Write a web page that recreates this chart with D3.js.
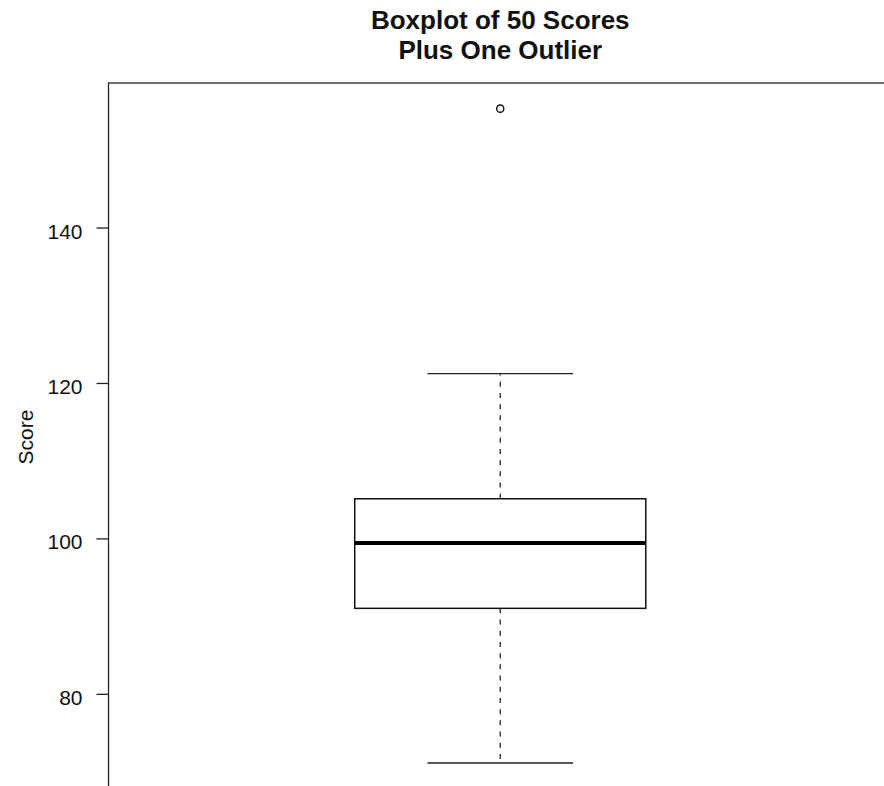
<!DOCTYPE html>
<html lang="en">
<head>
<meta charset="utf-8">
<style>
  body { margin: 0; background: white; }
  svg { display: block; font-family: "Liberation Sans", Arial, sans-serif; }
</style>
</head>
<body>
<script src="https://d3js.org/d3.v7.min.js"></script>
<script>
// five-number summary
var statNames = ["min", "q1", "median", "q3", "max"];
var statValues = [71.1, 91.0, 99.4, 105.1, 121.2];
var outliers = [155.3];
var yTicks = [80, 100, 120, 140];
var groups = ["Scores"];
var titleLines = ["Boxplot of 50 Scores", "Plus One Outlier"];

var W = 884, H = 786;
// plot region (right and bottom edges lie outside the picture)
var plotL = 108.5, plotR = 892, plotT = 83, plotB = 789.4;

var svg = d3.select("body").append("svg")
    .attr("width", W)
    .attr("height", H);

var s = {};
statNames.forEach(function(n, i) { s[n] = statValues[i]; });

var y = d3.scaleLinear()
    .domain([67.7, 158.6])
    .range([plotB, plotT]);

var x = d3.scaleBand()
    .domain(groups)
    .range([plotL, plotR])
    .paddingInner(0)
    .paddingOuter(0.846);

var cx = x(groups[0]) + x.bandwidth() / 2;
var bw = x.bandwidth();

// frame
svg.append("rect")
    .attr("x", plotL).attr("y", plotT)
    .attr("width", plotR - plotL).attr("height", plotB - plotT)
    .attr("fill", "none").attr("stroke", "#222").attr("stroke-width", 1.3);

// y axis
var axis = svg.append("g")
    .attr("transform", "translate(" + plotL + ",0)")
    .call(d3.axisLeft(y).tickValues(yTicks).tickSize(12).tickPadding(14).tickFormat(d3.format("d")));
axis.select(".domain").remove();
axis.selectAll(".tick line").attr("stroke", "#222").attr("stroke-width", 1.3);
axis.selectAll(".tick text")
    .attr("font-size", 21)
    .attr("font-family", "Liberation Sans, Arial, sans-serif")
    .attr("fill", "#111")
    .attr("dy", "0.5em");

// whiskers
var wg = svg.append("g").attr("stroke", "#333").attr("stroke-width", 1.4);
wg.append("line")
    .attr("x1", cx).attr("x2", cx)
    .attr("y1", y(s.q3)).attr("y2", y(s.max))
    .attr("stroke-dasharray", "5,6.2");
wg.append("line")
    .attr("x1", cx).attr("x2", cx)
    .attr("y1", y(s.q1)).attr("y2", y(s.min))
    .attr("stroke-dasharray", "5,6.2");
[s.min, s.max].forEach(function(v) {
  wg.append("line")
    .attr("x1", cx - bw / 4).attr("x2", cx + bw / 4)
    .attr("y1", y(v)).attr("y2", y(v))
    .attr("stroke", "#222");
});

// box
svg.append("rect")
    .attr("x", x(groups[0])).attr("y", y(s.q3))
    .attr("width", bw).attr("height", y(s.q1) - y(s.q3))
    .attr("fill", "white").attr("stroke", "#111").attr("stroke-width", 1.5);

// median
svg.append("line")
    .attr("x1", x(groups[0])).attr("x2", x(groups[0]) + bw)
    .attr("y1", y(s.median)).attr("y2", y(s.median))
    .attr("stroke", "black").attr("stroke-width", 4);

// outliers
svg.selectAll("circle.out")
    .data(outliers)
    .enter().append("circle")
    .attr("class", "out")
    .attr("cx", cx).attr("cy", function(d) { return y(d); })
    .attr("r", 3.6)
    .attr("fill", "none").attr("stroke", "#111").attr("stroke-width", 1.4);

// title
svg.append("g").selectAll("text")
    .data(titleLines)
    .enter().append("text")
    .attr("x", (plotL + plotR) / 2)
    .attr("y", function(d, i) { return 29 + i * 30; })
    .attr("text-anchor", "middle")
    .attr("font-size", 26)
    .attr("font-weight", "bold")
    .attr("fill", "#111")
    .text(function(d) { return d; });

// y label
svg.append("text")
    .attr("transform", "translate(33,437) rotate(-90)")
    .attr("text-anchor", "middle")
    .attr("font-size", 21)
    .attr("fill", "#111")
    .text("Score");
</script>
</body>
</html>
